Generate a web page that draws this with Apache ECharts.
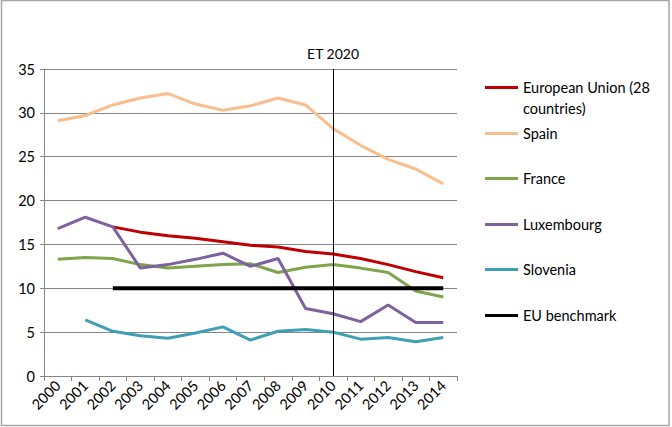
<!DOCTYPE html>
<html><head><meta charset="utf-8">
<script src="https://cdn.jsdelivr.net/npm/echarts@6/dist/echarts.min.js"></script>
<style>html,body{margin:0;padding:0;background:#fff}#c{width:672px;height:427px}</style>
</head><body><div id="c"></div>
<script>
var years = ['2000','2001','2002','2003','2004','2005','2006','2007','2008','2009','2010','2011','2012','2013','2014'];
var euValues = [null,null,17.0,16.4,16.0,15.7,15.3,14.9,14.7,14.2,13.9,13.4,12.7,11.9,11.2];
var spainValues = [29.1,29.7,30.9,31.7,32.2,31.0,30.3,30.8,31.7,30.9,28.2,26.3,24.7,23.6,21.9];
var franceValues = [13.3,13.5,13.4,12.7,12.3,12.5,12.7,12.8,11.8,12.4,12.7,12.3,11.8,9.7,9.0];
var luxValues = [16.8,18.1,17.0,12.3,12.7,13.3,14.0,12.5,13.4,7.7,7.1,6.2,8.1,6.1,6.1];
var sloValues = [null,6.4,5.1,4.6,4.3,4.9,5.6,4.1,5.1,5.3,5.0,4.2,4.4,3.9,4.4];
var benchValues = [null,null,10,10,10,10,10,10,10,10,10,10,10,10,10];
var seriesNames = ['European Union (28 countries)','Spain','France','Luxembourg','Slovenia','EU benchmark'];
var legendLabels = ['European Union (28','Spain','France','Luxembourg','Slovenia','EU benchmark'];
var legendSecondLine = 'countries)';
var seriesColors = ['#C00000','#F9BE8E','#7EA54A','#7D62A0','#3E9FB5','#000000'];
var markYear = '2010';
var markLabel = 'ET 2020';
var yTicks = [0,5,10,15,20,25,30,35];

var font = 'Lato, "Open Sans", sans-serif';
var allValues = [euValues, spainValues, franceValues, luxValues, sloValues, benchValues];
var series = allValues.map(function(v, i){
  var s = {
    name: seriesNames[i], type: 'line', data: v, symbol: 'none', smooth: false,
    lineStyle: {width: i === 5 ? 4 : 3, color: seriesColors[i]},
    itemStyle: {color: seriesColors[i]}, z: i === 5 ? 3 : 2
  };
  if (i === 0) {
    s.markLine = {
      symbol: 'none', silent: true,
      lineStyle: {color: '#000', width: 1, type: 'solid'},
      label: {show: true, position: 'end', formatter: markLabel, color: '#000', fontSize: 14, fontFamily: font, distance: 9},
      data: [{xAxis: markYear}]
    };
  }
  return s;
});
var legendTops = [80, 126, 171, 217, 262, 308];
var legends = seriesNames.map(function(n, i){
  return {
    data: [n], left: 485, top: legendTops[i], orient: 'vertical',
    itemWidth: 33, itemHeight: 16, itemGap: 0,
    icon: 'path://M0,0 L33,0 L33,3 L0,3 Z',
    formatter: function(){ return legendLabels[i]; },
    textStyle: {fontSize: 14.5, fontFamily: font, color: '#000'},
    selectedMode: false, padding: 0
  };
});
var chart = echarts.init(document.getElementById('c'), null, {renderer: 'svg'});
chart.setOption({
  animation: false,
  backgroundColor: '#fff',
  graphic: [
    {type: 'rect', shape: {x: 1.5, y: 0.5, width: 667.5, height: 425}, style: {fill: 'none', stroke: '#a6a6a6', lineWidth: 1.5}, silent: true},
    {type: 'text', left: 523, top: 101, style: {text: legendSecondLine, fontSize: 14.5, fontFamily: font, fill: '#000'}, silent: true}
  ],
  grid: {left: 44, right: 215, top: 69, bottom: 51},
  legend: legends,
  xAxis: {
    type: 'category', data: years, boundaryGap: true,
    axisLine: {lineStyle: {color: '#868686', width: 1}},
    axisTick: {show: true, length: 5, alignWithLabel: false, lineStyle: {color: '#868686'}},
    axisLabel: {rotate: 45, fontSize: 14.5, fontFamily: font, color: '#000', margin: 7, interval: 0}
  },
  yAxis: {
    type: 'value', min: yTicks[0], max: yTicks[yTicks.length-1], interval: 5,
    axisLine: {show: true, lineStyle: {color: '#868686', width: 1}},
    axisTick: {show: true, length: 4, lineStyle: {color: '#868686'}},
    splitLine: {lineStyle: {color: '#868686', width: 1}},
    axisLabel: {fontSize: 14.5, fontFamily: font, color: '#000', margin: 9}
  },
  series: series
});
</script></body></html>
